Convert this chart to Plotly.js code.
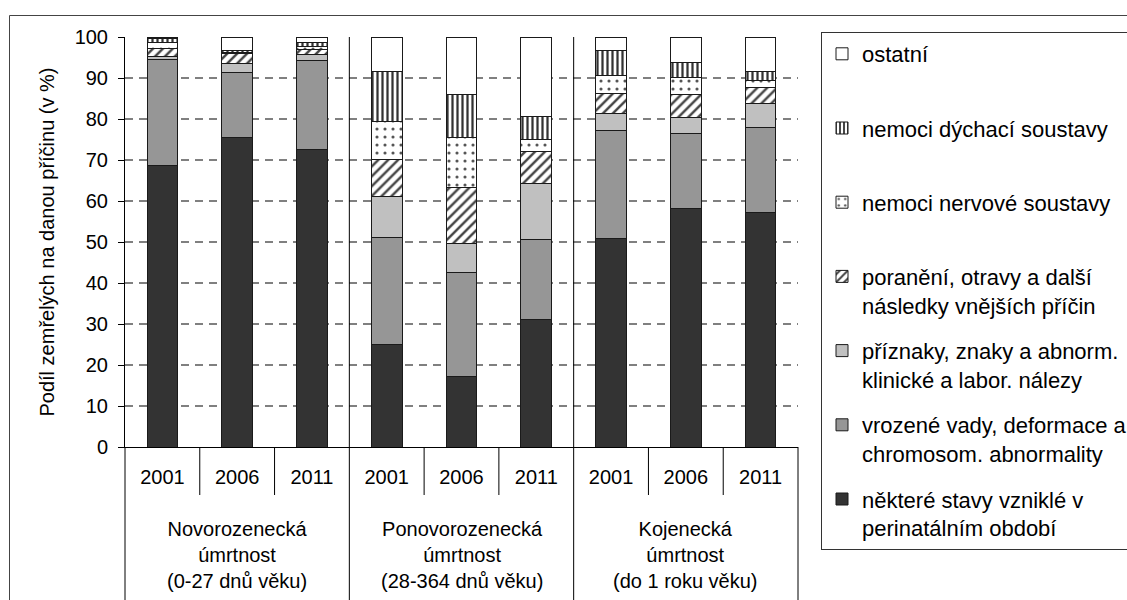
<!DOCTYPE html>
<html>
<head>
<meta charset="utf-8">
<script src="https://cdn.plot.ly/plotly-3.0.1.min.js"></script>
<style>
  html, body { margin: 0; padding: 0; background: #fff; }
  #chart { width: 1127px; height: 600px; }
</style>
</head>
<body>
<div id="chart"></div>
<script>
// ---- data ----
const groups = [
  'Novorozenecká<br>úmrtnost<br>(0-27 dnů věku)',
  'Ponovorozenecká<br>úmrtnost<br>(28-364 dnů věku)',
  'Kojenecká<br>úmrtnost<br>(do 1 roku věku)'
];
const years = ['2001', '2006', '2011'];

const perinatal   = [68.7, 75.6, 72.6, 25.0, 17.1, 31.2, 50.8, 58.1, 57.1];
const vrozene     = [25.9, 15.7, 21.6, 26.2, 25.4, 19.5, 26.3, 18.3, 20.9];
const priznaky    = [0.6, 2.2, 1.6, 10.0, 7.1, 13.5, 4.2, 3.9, 5.7];
const poraneni    = [2.0, 2.5, 1.1, 9.0, 13.8, 7.9, 5.0, 5.6, 4.1];
const nervove     = [1.5, 0.2, 0.7, 9.2, 12.0, 2.9, 4.4, 4.3, 1.5];
const dychaci     = [0.9, 0.5, 1.0, 12.3, 10.5, 5.5, 6.0, 3.5, 2.4];
const ostatni     = [0.4, 3.3, 1.4, 8.3, 14.1, 19.5, 3.3, 6.3, 8.3];

const seriesNames = [
  'některé stavy vzniklé v<br>perinatálním období',
  'vrozené vady, deformace a<br>chromosom. abnormality',
  'příznaky, znaky a abnorm.<br>klinické a labor. nálezy',
  'poranění, otravy a další<br>následky vnějších příčin',
  'nemoci nervové soustavy<br> ',
  'nemoci dýchací soustavy<br> ',
  'ostatní<br> '
];
const seriesValues = [perinatal, vrozene, priznaky, poraneni, nervove, dychaci, ostatni];

// ---- styles ----
const styles = [
  {color: '#333333'},
  {color: '#969696'},
  {color: '#c0c0c0'},
  {color: '#ffffff', pattern: {shape: '/', fgcolor: '#444444', bgcolor: '#ffffff', size: 7, solidity: 0.35}},
  {color: '#ffffff', pattern: {shape: '.', fgcolor: '#555555', bgcolor: '#ffffff', size: 8, solidity: 0.12}},
  {color: '#ffffff', pattern: {shape: '|', fgcolor: '#333333', bgcolor: '#ffffff', size: 5, solidity: 0.45}},
  {color: '#ffffff'}
];

const nG = groups.length, nY = years.length, nCat = nG * nY;
const xs = [];
const tickText = [];
groups.forEach((g, gi) => years.forEach((y, yi) => { xs.push(gi * nY + yi); tickText.push(y); }));

const traces = seriesValues.map((vals, k) => ({
  type: 'bar',
  name: seriesNames[k],
  legendgroup: 'g' + k,
  legendrank: seriesValues.length - k,
  x: xs,
  y: vals,
  width: 0.41,
  marker: Object.assign({}, styles[k], {line: {color: '#1a1a1a', width: 1}}),
  hoverinfo: 'skip'
}));

// ---- layout geometry ----
const L = 125, R = 329, T = 37, B = 153;
const W = 1127, H = 600;
const plotW = W - L - R, plotH = H - T - B;
const px2x = p => (p - L) / plotW;
const px2y = p => (H - B - p) / plotH;

const shapes = [];
// group separators (full height + label area)
for (let gi = 1; gi < nG; gi++) {
  const xb = gi * nY - 0.5;
  shapes.push({type: 'line', xref: 'x', yref: 'paper', x0: xb, x1: xb, y0: px2y(605), y1: 1,
               line: {color: '#000', width: 1}});
}
// year separators below axis
for (let gi = 0; gi < nG; gi++) {
  for (let yi = 1; yi < nY; yi++) {
    const xb = gi * nY + yi - 0.5;
    shapes.push({type: 'line', xref: 'x', yref: 'paper', x0: xb, x1: xb, y0: px2y(495), y1: 0,
                 line: {color: '#000', width: 1}});
  }
}
// left and right boundary lines below axis
shapes.push({type: 'line', xref: 'paper', yref: 'paper', x0: 0, x1: 0, y0: px2y(605), y1: 0, line: {color: '#000', width: 1}});
shapes.push({type: 'line', xref: 'paper', yref: 'paper', x0: 1, x1: 1, y0: px2y(605), y1: 0, line: {color: '#000', width: 1}});
// outer frame
shapes.push({type: 'rect', xref: 'paper', yref: 'paper', x0: px2x(9.5), x1: px2x(1200), y0: px2y(700), y1: px2y(15.5),
             line: {color: '#444', width: 1}, fillcolor: 'rgba(0,0,0,0)', layer: 'below'});

const annotations = groups.map((g, gi) => ({
  xref: 'x', yref: 'paper', x: gi * nY + (nY - 1) / 2, y: px2y(516),
  xanchor: 'center', yanchor: 'top', showarrow: false, text: g, align: 'center',
  font: {size: 20, color: '#000'}
}));

const layout = {
  width: W, height: H,
  margin: {l: L, r: R, t: T, b: B, autoexpand: false},
  paper_bgcolor: '#fff', plot_bgcolor: '#fff',
  font: {family: '"Liberation Sans", Arial, sans-serif', size: 20, color: '#000'},
  barmode: 'stack',
  showlegend: true,
  xaxis: {
    type: 'linear', range: [-0.5, nCat - 0.5], fixedrange: true,
    tickmode: 'array', tickvals: xs, ticktext: tickText,
    ticks: '', showgrid: false, zeroline: false,
    showline: true, linecolor: '#000', linewidth: 1,
    tickfont: {size: 20, color: '#000'}, ticklabelstandoff: 12
  },
  yaxis: {
    range: [0, 100], dtick: 10, tick0: 0, fixedrange: true,
    ticks: 'outside', ticklen: 6, tickcolor: '#000', tickwidth: 1,
    showline: true, linecolor: '#000', linewidth: 1,
    showgrid: true, gridcolor: '#808080', gridwidth: 1.5, griddash: '8px,6px',
    zeroline: false,
    tickfont: {size: 20, color: '#000'}, ticklabelstandoff: 6,
    title: {text: 'Podíl zemřelých na danou příčinu (v %)', font: {size: 20, color: '#000'}, standoff: 14}
  },
  legend: {
    x: px2x(821), y: px2y(32), xanchor: 'left', yanchor: 'top',
    maxheight: 580,
    bordercolor: '#333', borderwidth: 1, bgcolor: '#fff',
    font: {size: 22, color: '#000'},
    traceorder: 'grouped', tracegroupgap: 14, valign: 'top',
    itemclick: false, itemdoubleclick: false
  },
  shapes: shapes,
  annotations: annotations
};

Plotly.newPlot('chart', traces, layout, {displayModeBar: false, staticPlot: true});
</script>
</body>
</html>
